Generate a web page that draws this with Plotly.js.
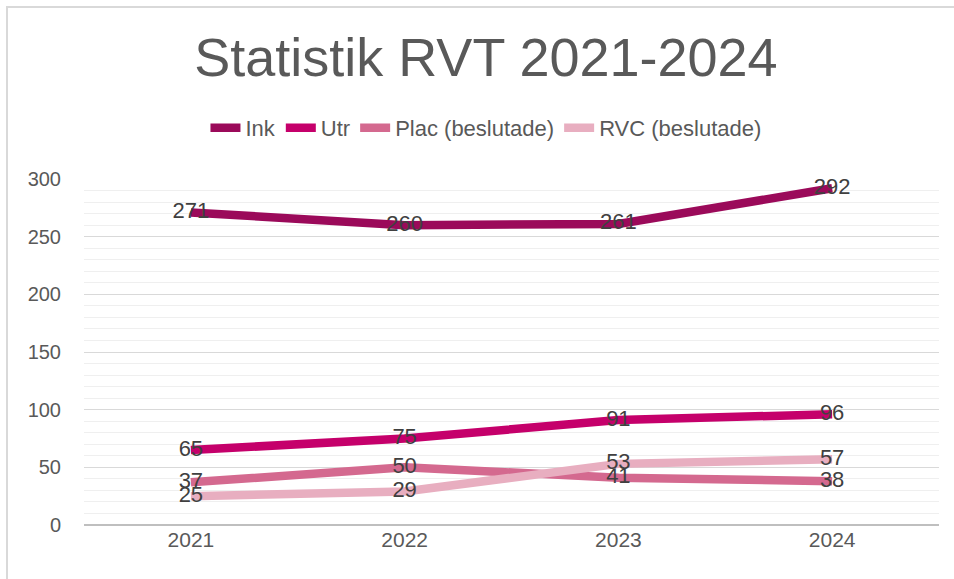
<!DOCTYPE html>
<html>
<head>
<meta charset="utf-8">
<script src="https://cdn.plot.ly/plotly-3.0.1.min.js"></script>
<style>
html,body{margin:0;padding:0;background:#fff;}
#wrap{position:relative;width:954px;height:579px;overflow:hidden;}
#chart{width:954px;height:579px;}
#frame{position:absolute;left:6px;top:6px;width:960px;height:600px;border:2px solid #d9d9d9;pointer-events:none;}
</style>
</head>
<body>
<div id="wrap"><div id="chart"></div><div id="frame"></div></div>
<script>
const years = ['2021', '2022', '2023', '2024'];
const seriesNames = ['Ink', 'Utr', 'Plac (beslutade)', 'RVC (beslutade)'];
const ink = [271, 260, 261, 292];
const utr = [65, 75, 91, 96];
const plac = [37, 50, 41, 38];
const rvc = [25, 29, 53, 57];
const colors = ['#9b0a5a', '#c5006b', '#d4698f', '#e8aec0'];
const allValues = [ink, utr, plac, rvc];

const traces = allValues.map((vals, i) => ({
  type: 'scatter',
  mode: 'lines+text',
  name: seriesNames[i],
  x: years,
  y: vals,
  text: vals.map(String),
  textposition: 'middle center',
  textfont: {family: 'Liberation Sans, Arial, sans-serif', size: 22, color: '#404040'},
  line: {color: colors[i], width: 8.5},
  cliponaxis: false
}));

const layout = {
  width: 954, height: 579,
  margin: {l: 84, r: 15, t: 179, b: 54},
  paper_bgcolor: '#ffffff',
  plot_bgcolor: '#ffffff',
  font: {family: 'Liberation Sans, Arial, sans-serif', color: '#595959'},
  title: {
    text: 'Statistik RVT 2021-2024',
    font: {size: 54, color: '#595959', family: 'Liberation Sans, Arial, sans-serif'},
    xref: 'container', yref: 'container',
    x: 0.5094, xanchor: 'center',
    y: 0.9016, yanchor: 'middle'
  },
  showlegend: true,
  legend: {
    orientation: 'h',
    x: 0.5094, xref: 'container', xanchor: 'center',
    y: 1 - 128/579, yref: 'container', yanchor: 'middle',
    font: {size: 22, color: '#595959'},
    traceorder: 'normal'
  },
  xaxis: {
    type: 'category',
    range: [-0.5, 3.5],
    showgrid: false,
    zeroline: false,
    showline: false,
    ticks: '',
    tickfont: {size: 21, color: '#595959'},
    fixedrange: true
  },
  yaxis: {
    range: [0, 300],
    dtick: 50,
    tick0: 0,
    showgrid: true,
    gridcolor: '#d9d9d9',
    gridwidth: 1,
    zeroline: true,
    zerolinecolor: '#bfbfbf',
    zerolinewidth: 1.5,
    showline: false,
    ticks: '',
    ticklen: 0,
    tickfont: {size: 20, color: '#595959'},
    ticklabelstandoff: 22,
    minor: {dtick: 10, showgrid: true, gridcolor: '#efefef', gridwidth: 1},
    fixedrange: true
  }
};

Plotly.newPlot('chart', traces, layout, {displayModeBar: false, staticPlot: true});
</script>
</body>
</html>
